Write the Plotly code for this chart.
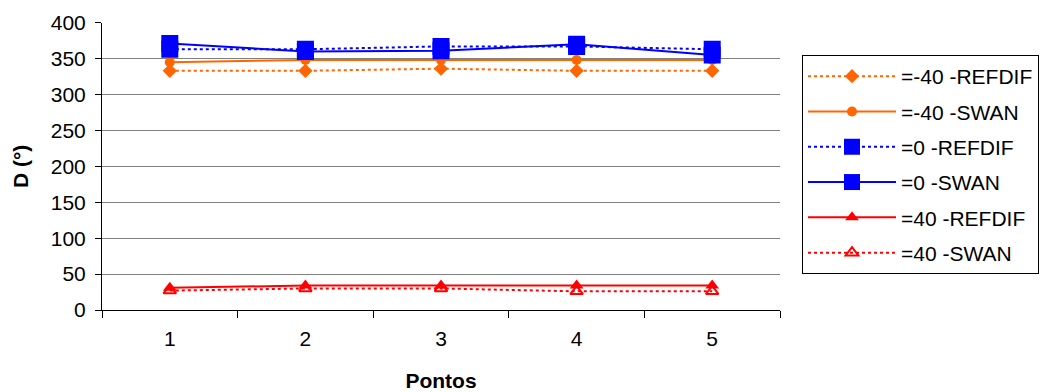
import plotly.graph_objects as go

W, H = 1042, 392

pontos = ["1", "2", "3", "4", "5"]
m40_refdif = [333, 333, 336, 333, 333]
m40_swan = [345, 348, 348, 348, 348]
z_refdif = [363, 363, 367, 367, 363]
z_swan = [371, 360, 361, 370, 355]
p40_refdif = [31, 34, 34, 34, 34]
p40_swan = [27, 30, 30, 26, 26]

names = ["=-40 -REFDIF", "=-40 -SWAN", "=0 -REFDIF", "=0 -SWAN", "=40 -REFDIF", "=40 -SWAN"]

ORANGE = "#FF6600"
BLUE = "#0000FF"
RED = "#FF0000"

series = [
    (names[0], m40_refdif, ORANGE, "dot", "diamond", 11),
    (names[1], m40_swan, ORANGE, "solid", "circle", 10),
    (names[2], z_refdif, BLUE, "dot", "square", 17),
    (names[3], z_swan, BLUE, "solid", "square", 17),
    (names[4], p40_refdif, RED, "solid", "triangle-up", 12),
    (names[5], p40_swan, RED, "dot", "triangle-up-open", 11),
]

fig = go.Figure()
for i, (nm, vals, col, dash, sym, sz) in enumerate(series):
    fig.add_trace(go.Scatter(
        x=pontos, y=vals, name=nm, mode="lines+markers",
        line=dict(color=col, width=2, dash=dash),
        marker=dict(symbol=sym, size=sz, color=col,
                    line=dict(width=2 if "open" in sym else 0, color=col)),
        legendgroup="g%d" % i,
    ))

FONT = "Liberation Sans, Arial, sans-serif"
FS = 21
x0, x1 = 102, 780
ytop, ybot = 22.7, 310

fig.update_layout(
    width=W, height=H,
    margin=dict(l=0, r=0, t=0, b=0, autoexpand=False),
    paper_bgcolor="white", plot_bgcolor="white",
    font=dict(family=FONT, size=FS, color="black"),
    showlegend=True,
    legend=dict(
        x=802 / W, y=1 - 55 / H, xanchor="left", yanchor="top",
        bordercolor="black", borderwidth=1, bgcolor="white",
        font=dict(family=FONT, size=FS, color="black"),
        tracegroupgap=5, itemwidth=88,
    ),
    xaxis=dict(
        domain=[x0 / W, x1 / W], type="category", range=[-0.5, 4.5],
        tickson="boundaries", ticks="outside", ticklen=7, tickcolor="black",
        showline=True, linecolor="black", linewidth=1, showgrid=False,
        ticklabelstandoff=10, automargin=False,
        title=dict(text="<b>Pontos</b>", standoff=24, font=dict(size=FS)),
        fixedrange=True,
    ),
    yaxis=dict(
        domain=[1 - ybot / H, 1 - ytop / H], range=[0, 400], dtick=50,
        ticks="outside", ticklen=6, tickcolor="black",
        showline=True, linecolor="black", linewidth=1,
        showgrid=True, gridcolor="#808080", gridwidth=1, zeroline=False,
        ticklabelstandoff=5, automargin=False,
        title=dict(text="<b>D (°)</b>", standoff=16, font=dict(size=FS)),
        fixedrange=True,
    ),
)

fig.write_html("out.html")
